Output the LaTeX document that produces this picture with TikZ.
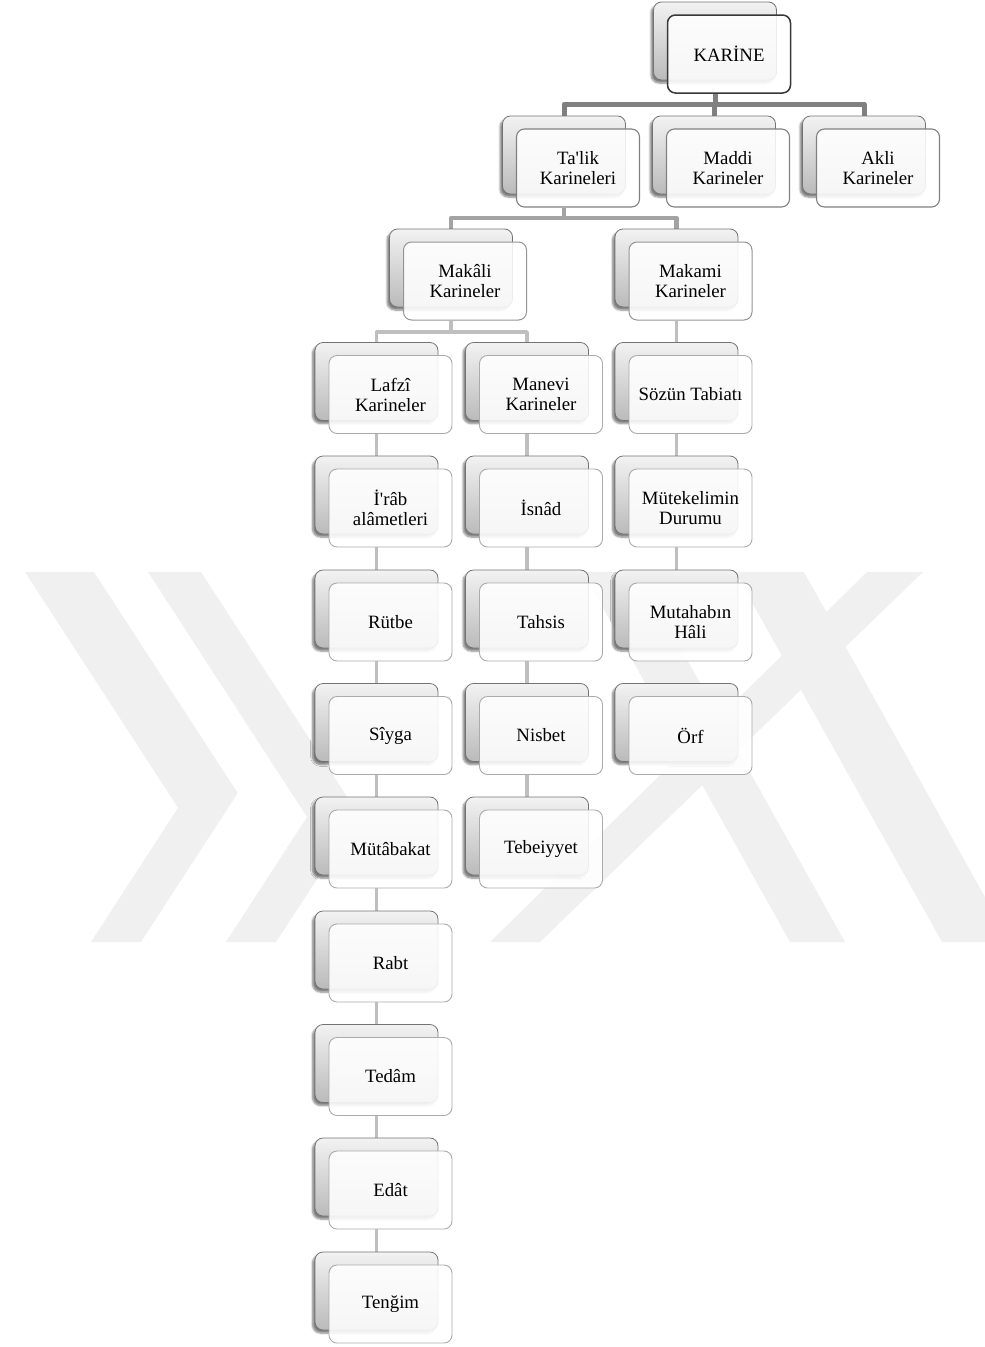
\documentclass[tikz,border=0pt]{standalone}
\usepackage{fontspec}
\setmainfont{Liberation Serif}[Ligatures=TeXOff]
\usetikzlibrary{shadows.blur}
\pgfdeclarelayer{conn}
\pgfsetlayers{conn,main}
\tikzset{
  backbox/.style={draw=black!55, line width=0.8pt, rounded corners=8pt,
    minimum width=123pt, minimum height=78pt, inner sep=0pt,
    top color=black!5, bottom color=black!27,
    blur shadow={shadow xshift=-2.5pt, shadow yshift=-3pt, shadow blur steps=6, shadow opacity=50}},
  frontbox/.style={draw=black!35, line width=0.9pt, rounded corners=8pt,
    minimum width=123pt, minimum height=78pt, inner sep=0pt,
    fill=white, fill opacity=0.88, text opacity=1, align=center,
    font=\fontsize{18.8}{20}\selectfont},
  fzero/.style={draw=black!78, line width=1.5pt},
  fone/.style={draw=black!50, line width=1.1pt},
  ftwo/.style={draw=black!42, line width=1pt},
  fthree/.style={draw=black!33, line width=0.9pt},
  cone/.style={draw=black!50, line width=5pt, line join=round},
  ctwo/.style={draw=black!36, line width=4.2pt, line join=round},
  cthree/.style={draw=black!25, line width=3.6pt, line join=round},
  wmark/.style={fill=black!6, draw=none}
}
\newcommand\kb[5]{%
  \node[backbox] (#1-b) at (#2-14,#3-13) {};
  \node[frontbox,#5] (#1) at (#2,#3) {#4};
}
\begin{document}
\begin{tikzpicture}[x=1pt,y=-1pt]
\useasboundingbox (0,0) rectangle (985,1347);
% watermark
\begin{scope}
\clip (0,0) rectangle (985,1347);
\fill[wmark] (25,572) -- (94,572) -- (237.7,793) -- (141,942) -- (91,942) -- (178,807.8) -- cycle;
\fill[wmark] (148,572) -- (201,572) -- (359,815) -- (276,942) -- (226,942) -- (307,817) -- cycle;
\fill[wmark] (867,572) -- (923,572) -- (540,942) -- (490,942) -- cycle;
\fill[wmark] (735,572) -- (804,572) -- (1010,942) -- (942,942) -- cycle;
\fill[wmark] (583,572) -- (638,572) -- (845,942) -- (790,942) -- cycle;
\end{scope}
% boxes
\kb{karine}{729}{54}{KARİNE}{fzero}
\kb{talik}{578}{168}{Ta'lik\\Karineleri}{fone}
\kb{maddi}{728}{168}{Maddi\\Karineler}{fone}
\kb{akli}{878}{168}{Akli\\Karineler}{fone}
\kb{makali}{465}{281}{Makâli\\Karineler}{ftwo}
\kb{makami}{690.5}{281}{Makami\\Karineler}{ftwo}
\kb{lafzi}{390.5}{394.5}{Lafzî\\Karineler}{fthree}
\kb{irab}{390.5}{508}{İ'râb\\alâmetleri}{fthree}
\kb{rutbe}{390.5}{622}{Rütbe}{fthree}
\kb{siyga}{390.5}{735.5}{Sîyga}{fthree}
\kb{mutabakat}{390.5}{849}{Mütâbakat}{fthree}
\kb{rabt}{390.5}{963}{Rabt}{fthree}
\kb{tedam}{390.5}{1076.5}{Tedâm}{fthree}
\kb{edat}{390.5}{1190}{Edât}{fthree}
\kb{tengim}{390.5}{1304}{Tenğim}{fthree}
\kb{manevi}{541}{394.5}{Manevi\\Karineler}{fthree}
\kb{isnad}{541}{508}{İsnâd}{fthree}
\kb{tahsis}{541}{622}{Tahsis}{fthree}
\kb{nisbet}{541}{735.5}{Nisbet}{fthree}
\kb{tebeiyyet}{541}{849}{Tebeiyyet}{fthree}
\kb{sozun}{690.5}{394.5}{Sözün Tabiatı}{fthree}
\kb{mutekelim}{690.5}{508}{Mütekelimin\\Durumu}{fthree}
\kb{mutahab}{690.5}{622}{Mutahabın\\Hâli}{fthree}
\kb{orf}{690.5}{735.5}{Örf}{fthree}
\coordinate (ya) at (0,104);
\coordinate (yb) at (0,218);
\coordinate (yc) at (0,332);
% connectors
\begin{pgfonlayer}{conn}
\foreach \c in {talik,maddi,akli}
  \draw[cone] (karine-b |- karine.south) -- (karine-b |- ya) -| (\c-b.north);
\foreach \c in {makali,makami}
  \draw[ctwo] (talik-b |- talik.south) -- (talik-b |- yb) -| (\c-b.north);
\foreach \c in {lafzi,manevi}
  \draw[cthree] (makali-b |- makali.south) -- (makali-b |- yc) -| (\c-b.north);
\draw[cthree] (makami-b |- makami.south) -- (sozun-b.north);
\foreach \a/\b in {lafzi/irab,irab/rutbe,rutbe/siyga,siyga/mutabakat,mutabakat/rabt,rabt/tedam,tedam/edat,edat/tengim,
  manevi/isnad,isnad/tahsis,tahsis/nisbet,nisbet/tebeiyyet,
  sozun/mutekelim,mutekelim/mutahab,mutahab/orf}
  \draw[cthree] (\a-b |- \a.south) -- (\b-b.north);
\end{pgfonlayer}
\end{tikzpicture}
\end{document}
